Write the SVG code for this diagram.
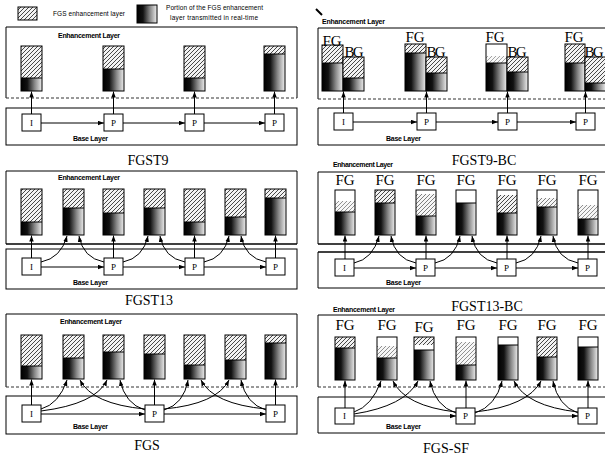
<svg xmlns="http://www.w3.org/2000/svg" width="605" height="456" viewBox="0 0 605 456">
<style>
.o{fill:none;stroke:#000;stroke-width:1}
.h{fill:url(#hatch)}
.d{fill:url(#grad)}
.w{fill:#fff}
.bx{fill:#fff;stroke:#000;stroke-width:1}
.pl{fill:none;stroke:#000;stroke-width:1}
.dash{fill:none;stroke:#333;stroke-width:1;stroke-dasharray:3 2}
.thick{fill:none;stroke:#000;stroke-width:1.6}
.sm{font-family:"Liberation Sans",Arial,sans-serif;font-size:7px;font-weight:bold;fill:#000}
.lg{font-family:"Liberation Sans",Arial,sans-serif;font-size:6.5px;fill:#000}
.tt{font-family:"Liberation Serif","Times New Roman",serif;font-size:14px;fill:#000;text-anchor:middle}
.fg{font-family:"Liberation Serif","Times New Roman",serif;font-size:15px;fill:#000;text-anchor:middle}
.bl{font-family:"Liberation Serif","Times New Roman",serif;font-size:9px;fill:#000;text-anchor:middle}
.cn line,.cn path{fill:none;stroke:#000;stroke-width:1;marker-end:url(#ah)}
</style>
<defs>
<pattern id="hatch" patternUnits="userSpaceOnUse" width="4" height="4">
<rect width="4" height="4" fill="#f2f2f2"/>
<path d="M-1,1 L1,-1 M0,4 L4,0 M3,5 L5,3" stroke="#333" stroke-width="0.9"/>
</pattern>
<linearGradient id="grad" x1="0" y1="0" x2="1" y2="0">
<stop offset="0" stop-color="#000"/>
<stop offset="0.3" stop-color="#111"/>
<stop offset="0.65" stop-color="#888"/>
<stop offset="1" stop-color="#eee"/>
</linearGradient>
<marker id="ah" viewBox="0 0 8 6" refX="8" refY="3" markerWidth="6" markerHeight="5" markerUnits="userSpaceOnUse" orient="auto">
<path d="M0,0 L8,3 L0,6 z" fill="#000"/>
</marker>
</defs>
<rect width="605" height="456" fill="#fff"/>

<!-- Legend -->
<g id="legend">
<rect class="h" x="18" y="7" width="19" height="13"/><rect class="o" x="18" y="7" width="19" height="13"/>
<text class="lg" x="53" y="16" textLength="72">FGS enhancement layer</text>
<rect class="d" x="137" y="5" width="20" height="18"/><rect class="o" x="137" y="5" width="20" height="18"/>
<text class="lg" x="166" y="10" textLength="97">Portion of the FGS enhancement</text>
<text class="lg" x="170" y="20" textLength="88">layer transmitted in real-time</text>
</g>

<!-- ===== Panel TL ===== -->
<g id="tl-frame">
<path class="pl" d="M6,98 V27 H297 V98"/><line class="dash" x1="6" y1="98" x2="297" y2="98"/>
<rect class="pl" x="6" y="108" width="291" height="37"/>
<text class="sm" x="58" y="38" textLength="62">Enhancement Layer</text>
<text class="sm" x="73" y="141" textLength="35">Base Layer</text>
</g>
<g id="tl-c1"><rect class="h" x="21" y="46" width="21" height="32"/><rect class="d" x="21" y="78" width="21" height="13"/><rect class="o" x="21" y="46" width="21" height="45"/><line class="o" x1="21" y1="78" x2="42" y2="78"/></g>
<g id="tl-c2"><rect class="h" x="103" y="46" width="21" height="23"/><rect class="d" x="103" y="69" width="21" height="22"/><rect class="o" x="103" y="46" width="21" height="45"/><line class="o" x1="103" y1="69" x2="124" y2="69"/></g>
<g id="tl-c3"><rect class="h" x="184" y="46" width="21" height="32"/><rect class="d" x="184" y="78" width="21" height="13"/><rect class="o" x="184" y="46" width="21" height="45"/><line class="o" x1="184" y1="78" x2="205" y2="78"/></g>
<g id="tl-c4"><rect class="h" x="264" y="46" width="21" height="8"/><rect class="d" x="264" y="54" width="21" height="37"/><rect class="o" x="264" y="46" width="21" height="45"/><line class="o" x1="264" y1="54" x2="285" y2="54"/></g>
<g id="tl-I"><rect class="bx" x="22" y="114" width="19" height="17"/><text class="bl" x="31.5" y="126">I</text></g>
<g id="tl-P1"><rect class="bx" x="104" y="114" width="19" height="17"/><text class="bl" x="113.5" y="126">P</text></g>
<g id="tl-P2"><rect class="bx" x="185" y="114" width="19" height="17"/><text class="bl" x="194.5" y="126">P</text></g>
<g id="tl-P3"><rect class="bx" x="265" y="114" width="19" height="17"/><text class="bl" x="274.5" y="126">P</text></g>

<!-- ===== Panel TR ===== -->
<g id="tr-frame">
<path d="M316,9 L322,15" stroke="#000" stroke-width="2"/>
<path class="pl" d="M318,99 V28 H610"/><line class="dash" x1="318" y1="99" x2="610" y2="99"/>
<path class="pl" d="M610,108 H318 V145 H610"/>
<text class="sm" x="322" y="24" textLength="63">Enhancement Layer</text>
<text class="sm" x="386" y="141" textLength="35">Base Layer</text>
</g>
<g id="tr-fg1"><rect class="h" x="322" y="45" width="21" height="18"/><rect class="d" x="322" y="63" width="21" height="28"/><rect class="o" x="322" y="45" width="21" height="46"/><line class="o" x1="322" y1="63" x2="343" y2="63"/></g>
<g id="tr-bg1"><rect class="h" x="343" y="57" width="21" height="21"/><rect class="d" x="343" y="78" width="21" height="13"/><rect class="o" x="343" y="57" width="21" height="34"/><line class="o" x1="343" y1="78" x2="364" y2="78"/></g>
<g id="tr-fg2"><rect class="h" x="405" y="44" width="21" height="9"/><rect class="d" x="405" y="53" width="21" height="38"/><rect class="o" x="405" y="44" width="21" height="47"/><line class="o" x1="405" y1="53" x2="426" y2="53"/></g>
<g id="tr-bg2"><rect class="h" x="426" y="57" width="21" height="16"/><rect class="d" x="426" y="73" width="21" height="18"/><rect class="o" x="426" y="57" width="21" height="34"/><line class="o" x1="426" y1="73" x2="447" y2="73"/></g>
<g id="tr-fg3"><rect class="w" x="486" y="44" width="21" height="19"/><rect class="h" x="486" y="56" width="21" height="7" opacity="0.5"/><rect class="d" x="486" y="63" width="21" height="28"/><rect class="o" x="486" y="44" width="21" height="47"/><line class="o" x1="486" y1="63" x2="507" y2="63"/></g>
<g id="tr-bg3"><rect class="h" x="507" y="57" width="21" height="15"/><rect class="d" x="507" y="72" width="21" height="19"/><rect class="o" x="507" y="57" width="21" height="34"/><line class="o" x1="507" y1="72" x2="528" y2="72"/></g>
<g id="tr-fg4"><rect class="h" x="565" y="44" width="20" height="19"/><rect class="d" x="565" y="63" width="20" height="28"/><rect class="o" x="565" y="44" width="20" height="47"/><line class="o" x1="565" y1="63" x2="585" y2="63"/></g>
<g id="tr-bg4"><rect class="h" x="585" y="57" width="21" height="26"/><rect class="d" x="585" y="83" width="21" height="8"/><rect class="o" x="585" y="57" width="21" height="34"/><line class="o" x1="585" y1="83" x2="606" y2="83"/></g>
<g id="tr-labels">
<text class="fg" x="332" y="46" textLength="19">FG</text><text class="fg" x="354" y="57" textLength="19">BG</text>
<text class="fg" x="415" y="42" textLength="19">FG</text><text class="fg" x="436" y="57" textLength="19">BG</text>
<text class="fg" x="495" y="42" textLength="19">FG</text><text class="fg" x="517" y="57" textLength="19">BG</text>
<text class="fg" x="574" y="42" textLength="19">FG</text><text class="fg" x="594" y="57" textLength="19">BG</text>
</g>
<g id="tr-I"><rect class="bx" x="334" y="113" width="19" height="17"/><text class="bl" x="343.5" y="125">I</text></g>
<g id="tr-P1"><rect class="bx" x="417" y="113" width="19" height="17"/><text class="bl" x="426.5" y="125">P</text></g>
<g id="tr-P2"><rect class="bx" x="498" y="113" width="19" height="17"/><text class="bl" x="507.5" y="125">P</text></g>
<g id="tr-P3"><rect class="bx" x="576" y="113" width="19" height="17"/><text class="bl" x="585.5" y="125">P</text></g>

<!-- Titles row 1 -->
<text class="tt" x="148" y="165">FGST9</text>
<text class="tt" x="484" y="165">FGST9-BC</text>

<!-- ===== Panel ML ===== -->
<g id="ml-frame">
<path class="pl" d="M6,244 V171 H297 V244"/><line class="thick" x1="6" y1="244" x2="297" y2="244"/>
<rect class="pl" x="6" y="249" width="291" height="40"/>
<text class="sm" x="58" y="180" textLength="62">Enhancement Layer</text>
<text class="sm" x="73" y="285" textLength="35">Base Layer</text>
</g>
<g id="ml-c1"><rect class="h" x="21" y="189" width="21" height="33"/><rect class="d" x="21" y="222" width="21" height="13"/><rect class="o" x="21" y="189" width="21" height="46"/><line class="o" x1="21" y1="222" x2="42" y2="222"/></g>
<g id="ml-c2"><rect class="h" x="63" y="189" width="21" height="19"/><rect class="d" x="63" y="208" width="21" height="27"/><rect class="o" x="63" y="189" width="21" height="46"/><line class="o" x1="63" y1="208" x2="84" y2="208"/></g>
<g id="ml-c3"><rect class="h" x="103" y="189" width="21" height="24"/><rect class="d" x="103" y="213" width="21" height="22"/><rect class="o" x="103" y="189" width="21" height="46"/><line class="o" x1="103" y1="213" x2="124" y2="213"/></g>
<g id="ml-c4"><rect class="h" x="144" y="189" width="21" height="19"/><rect class="d" x="144" y="208" width="21" height="27"/><rect class="o" x="144" y="189" width="21" height="46"/><line class="o" x1="144" y1="208" x2="165" y2="208"/></g>
<g id="ml-c5"><rect class="h" x="184" y="189" width="21" height="33"/><rect class="d" x="184" y="222" width="21" height="13"/><rect class="o" x="184" y="189" width="21" height="46"/><line class="o" x1="184" y1="222" x2="205" y2="222"/></g>
<g id="ml-c6"><rect class="h" x="225" y="189" width="21" height="28"/><rect class="d" x="225" y="217" width="21" height="18"/><rect class="o" x="225" y="189" width="21" height="46"/><line class="o" x1="225" y1="217" x2="246" y2="217"/></g>
<g id="ml-c7"><rect class="h" x="265" y="189" width="21" height="9"/><rect class="d" x="265" y="198" width="21" height="37"/><rect class="o" x="265" y="189" width="21" height="46"/><line class="o" x1="265" y1="198" x2="286" y2="198"/></g>
<g id="ml-I"><rect class="bx" x="22" y="258" width="19" height="17"/><text class="bl" x="31.5" y="270">I</text></g>
<g id="ml-P1"><rect class="bx" x="104" y="258" width="19" height="17"/><text class="bl" x="113.5" y="270">P</text></g>
<g id="ml-P2"><rect class="bx" x="185" y="258" width="19" height="17"/><text class="bl" x="194.5" y="270">P</text></g>
<g id="ml-P3"><rect class="bx" x="266" y="258" width="19" height="17"/><text class="bl" x="275.5" y="270">P</text></g>

<!-- ===== Panel MR ===== -->
<g id="mr-frame">
<path class="pl" d="M318,244 V172 H610"/><line class="thick" x1="318" y1="244" x2="610" y2="244"/>
<line class="thick" x1="318" y1="252" x2="610" y2="252"/>
<path class="pl" d="M318,252 V288 H610"/>
<text class="sm" x="333" y="167" textLength="60">Enhancement Layer</text>
<text class="sm" x="386" y="285" textLength="35">Base Layer</text>
</g>
<g id="mr-c1"><rect class="w" x="335" y="190" width="20" height="22"/><rect class="h" x="335" y="201" width="20" height="11" opacity="0.6"/><rect class="d" x="335" y="212" width="20" height="23"/><rect class="o" x="335" y="190" width="20" height="45"/><line class="o" x1="335" y1="212" x2="355" y2="212"/></g>
<g id="mr-c2"><rect class="h" x="375" y="190" width="20" height="13"/><rect class="d" x="375" y="203" width="20" height="32"/><rect class="o" x="375" y="190" width="20" height="45"/><line class="o" x1="375" y1="203" x2="395" y2="203"/></g>
<g id="mr-c3"><rect class="w" x="416" y="190" width="20" height="26"/><rect class="h" x="416" y="194" width="20" height="22" opacity="0.7"/><rect class="d" x="416" y="216" width="20" height="19"/><rect class="o" x="416" y="190" width="20" height="45"/><line class="o" x1="416" y1="216" x2="436" y2="216"/></g>
<g id="mr-c4"><rect class="w" x="456" y="190" width="20" height="13"/><rect class="d" x="456" y="203" width="20" height="32"/><rect class="o" x="456" y="190" width="20" height="45"/><line class="o" x1="456" y1="203" x2="476" y2="203"/></g>
<g id="mr-c5"><rect class="w" x="497" y="190" width="20" height="23"/><rect class="h" x="497" y="195" width="20" height="18"/><rect class="d" x="497" y="213" width="20" height="22"/><rect class="o" x="497" y="190" width="20" height="45"/><line class="o" x1="497" y1="213" x2="517" y2="213"/></g>
<g id="mr-c6"><rect class="w" x="537" y="190" width="20" height="17"/><rect class="h" x="537" y="198" width="20" height="9" opacity="0.7"/><rect class="d" x="537" y="207" width="20" height="28"/><rect class="o" x="537" y="190" width="20" height="45"/><line class="o" x1="537" y1="207" x2="557" y2="207"/></g>
<g id="mr-c7"><rect class="w" x="578" y="190" width="20" height="29"/><rect class="h" x="578" y="205" width="20" height="14" opacity="0.6"/><rect class="d" x="578" y="219" width="20" height="16"/><rect class="o" x="578" y="190" width="20" height="45"/><line class="o" x1="578" y1="219" x2="598" y2="219"/></g>
<g id="mr-labels">
<text class="fg" x="345" y="185" textLength="19">FG</text><text class="fg" x="385" y="185" textLength="19">FG</text><text class="fg" x="426" y="185" textLength="19">FG</text><text class="fg" x="466" y="185" textLength="19">FG</text><text class="fg" x="507" y="185" textLength="19">FG</text><text class="fg" x="547" y="185" textLength="19">FG</text><text class="fg" x="588" y="185" textLength="19">FG</text>
</g>
<g id="mr-I"><rect class="bx" x="335" y="259" width="19" height="17"/><text class="bl" x="344.5" y="271">I</text></g>
<g id="mr-P1"><rect class="bx" x="416" y="259" width="19" height="17"/><text class="bl" x="425.5" y="271">P</text></g>
<g id="mr-P2"><rect class="bx" x="497" y="259" width="19" height="17"/><text class="bl" x="506.5" y="271">P</text></g>
<g id="mr-P3"><rect class="bx" x="578" y="259" width="19" height="17"/><text class="bl" x="587.5" y="271">P</text></g>

<!-- Titles row 2 -->
<text class="tt" x="149" y="305">FGST13</text>
<text class="tt" x="487" y="311">FGST13-BC</text>

<!-- ===== Panel BL ===== -->
<g id="bl-frame">
<path class="pl" d="M6,387 V314 H297 V387"/><line class="dash" x1="6" y1="387" x2="297" y2="387"/>
<rect class="pl" x="6" y="396" width="291" height="38"/>
<text class="sm" x="60" y="324" textLength="62">Enhancement Layer</text>
<text class="sm" x="73" y="429" textLength="35">Base Layer</text>
</g>
<g id="bl-c1"><rect class="h" x="21" y="335" width="21" height="31"/><rect class="d" x="21" y="366" width="21" height="13"/><rect class="o" x="21" y="335" width="21" height="44"/><line class="o" x1="21" y1="366" x2="42" y2="366"/></g>
<g id="bl-c2"><rect class="h" x="63" y="335" width="21" height="23"/><rect class="d" x="63" y="358" width="21" height="21"/><rect class="o" x="63" y="335" width="21" height="44"/><line class="o" x1="63" y1="358" x2="84" y2="358"/></g>
<g id="bl-c3"><rect class="h" x="103" y="335" width="21" height="17"/><rect class="d" x="103" y="352" width="21" height="27"/><rect class="o" x="103" y="335" width="21" height="44"/><line class="o" x1="103" y1="352" x2="124" y2="352"/></g>
<g id="bl-c4"><rect class="h" x="144" y="335" width="21" height="19"/><rect class="d" x="144" y="354" width="21" height="25"/><rect class="o" x="144" y="335" width="21" height="44"/><line class="o" x1="144" y1="354" x2="165" y2="354"/></g>
<g id="bl-c5"><rect class="h" x="184" y="335" width="21" height="30"/><rect class="d" x="184" y="365" width="21" height="14"/><rect class="o" x="184" y="335" width="21" height="44"/><line class="o" x1="184" y1="365" x2="205" y2="365"/></g>
<g id="bl-c6"><rect class="h" x="225" y="335" width="21" height="25"/><rect class="d" x="225" y="360" width="21" height="19"/><rect class="o" x="225" y="335" width="21" height="44"/><line class="o" x1="225" y1="360" x2="246" y2="360"/></g>
<g id="bl-c7"><rect class="h" x="265" y="335" width="21" height="8"/><rect class="d" x="265" y="343" width="21" height="36"/><rect class="o" x="265" y="335" width="21" height="44"/><line class="o" x1="265" y1="343" x2="286" y2="343"/></g>
<g id="bl-I"><rect class="bx" x="22" y="405" width="19" height="17"/><text class="bl" x="31.5" y="417">I</text></g>
<g id="bl-P1"><rect class="bx" x="145" y="405" width="19" height="17"/><text class="bl" x="154.5" y="417">P</text></g>
<g id="bl-P2"><rect class="bx" x="266" y="405" width="19" height="17"/><text class="bl" x="275.5" y="417">P</text></g>

<!-- ===== Panel BR ===== -->
<g id="br-frame">
<path class="pl" d="M318,387 V315 H610"/><line class="dash" x1="318" y1="387" x2="610" y2="387"/>
<path class="pl" d="M610,397 H318 V433 H610"/>
<text class="sm" x="333" y="312" textLength="62">Enhancement Layer</text>
<text class="sm" x="386" y="429" textLength="35">Base Layer</text>
</g>
<g id="br-c1"><rect class="h" x="335" y="337" width="20" height="11"/><rect class="d" x="335" y="348" width="20" height="32"/><rect class="o" x="335" y="337" width="20" height="43"/><line class="o" x1="335" y1="348" x2="355" y2="348"/></g>
<g id="br-c2"><rect class="w" x="377" y="337" width="20" height="21"/><rect class="h" x="377" y="346" width="20" height="12" opacity="0.6"/><rect class="d" x="377" y="358" width="20" height="22"/><rect class="o" x="377" y="337" width="20" height="43"/><line class="o" x1="377" y1="358" x2="397" y2="358"/></g>
<g id="br-c3"><rect class="w" x="414" y="337" width="20" height="13"/><rect class="h" x="414" y="337" width="20" height="8"/><rect class="d" x="414" y="350" width="20" height="30"/><rect class="o" x="414" y="337" width="20" height="43"/><line class="o" x1="414" y1="350" x2="434" y2="350"/></g>
<g id="br-c4"><rect class="w" x="456" y="337" width="20" height="28"/><rect class="h" x="456" y="342" width="20" height="23" opacity="0.6"/><rect class="d" x="456" y="365" width="20" height="15"/><rect class="o" x="456" y="337" width="20" height="43"/><line class="o" x1="456" y1="365" x2="476" y2="365"/></g>
<g id="br-c5"><rect class="w" x="498" y="337" width="20" height="8"/><rect class="d" x="498" y="345" width="20" height="35"/><rect class="o" x="498" y="337" width="20" height="43"/><line class="o" x1="498" y1="345" x2="518" y2="345"/></g>
<g id="br-c6"><rect class="h" x="537" y="337" width="20" height="20"/><rect class="d" x="537" y="357" width="20" height="23"/><rect class="o" x="537" y="337" width="20" height="43"/><line class="o" x1="537" y1="357" x2="557" y2="357"/></g>
<g id="br-c7"><rect class="w" x="578" y="337" width="20" height="10"/><rect class="d" x="578" y="347" width="20" height="33"/><rect class="o" x="578" y="337" width="20" height="43"/><line class="o" x1="578" y1="347" x2="598" y2="347"/></g>
<g id="br-labels">
<text class="fg" x="345" y="330" textLength="19">FG</text><text class="fg" x="387" y="330" textLength="19">FG</text><text class="fg" x="424" y="332" textLength="19">FG</text><text class="fg" x="466" y="330" textLength="19">FG</text><text class="fg" x="508" y="330" textLength="19">FG</text><text class="fg" x="547" y="330" textLength="19">FG</text><text class="fg" x="588" y="330" textLength="19">FG</text>
</g>
<g id="br-I"><rect class="bx" x="335" y="408" width="19" height="16"/><text class="bl" x="344.5" y="419">I</text></g>
<g id="br-P1"><rect class="bx" x="456" y="408" width="19" height="16"/><text class="bl" x="465.5" y="419">P</text></g>
<g id="br-P2"><rect class="bx" x="578" y="408" width="19" height="16"/><text class="bl" x="587.5" y="419">P</text></g>

<!-- Titles row 3 -->
<text class="tt" x="147" y="450">FGS</text>
<text class="tt" x="446" y="453">FGS-SF</text>

<!-- ===== Connectors ===== -->
<g id="connectors" class="cn">
<!-- TL -->
<line x1="31.5" y1="114" x2="31.5" y2="91.5"/><line x1="113.5" y1="114" x2="113.5" y2="91.5"/><line x1="194.5" y1="114" x2="194.5" y2="91.5"/><line x1="274.5" y1="114" x2="274.5" y2="91.5"/>
<line x1="41" y1="123" x2="104" y2="123"/><line x1="123" y1="123" x2="185" y2="123"/><line x1="204" y1="123" x2="265" y2="123"/>
<!-- TR -->
<line x1="343.5" y1="113" x2="343.5" y2="91.5"/><line x1="426.5" y1="113" x2="426.5" y2="91.5"/><line x1="507.5" y1="113" x2="507.5" y2="91.5"/><line x1="585.5" y1="113" x2="585.5" y2="91.5"/>
<line x1="353" y1="122" x2="417" y2="122"/><line x1="436" y1="122" x2="498" y2="122"/><line x1="517" y1="122" x2="576" y2="122"/>
<!-- ML -->
<line x1="31.5" y1="258" x2="31.5" y2="235.5"/><line x1="113.5" y1="258" x2="113.5" y2="235.5"/><line x1="194.5" y1="258" x2="194.5" y2="235.5"/><line x1="275.5" y1="258" x2="275.5" y2="235.5"/>
<line x1="41" y1="267" x2="104" y2="267"/><line x1="123" y1="267" x2="185" y2="267"/><line x1="204" y1="267" x2="266" y2="267"/>
<path d="M41,262 Q61,258 67,236"/><path d="M104,262 Q83,258 79,236"/>
<path d="M123,262 Q143,258 148,236"/><path d="M185,262 Q164,258 160,236"/>
<path d="M204,262 Q224,258 229,236"/><path d="M266,262 Q245,258 241,236"/>
<!-- MR -->
<line x1="345" y1="259" x2="345" y2="235.5"/><line x1="426" y1="259" x2="426" y2="235.5"/><line x1="507" y1="259" x2="507" y2="235.5"/><line x1="588" y1="259" x2="588" y2="235.5"/>
<line x1="354" y1="268" x2="416" y2="268"/><line x1="435" y1="268" x2="497" y2="268"/><line x1="516" y1="268" x2="578" y2="268"/>
<path d="M354,263 Q373,259 379,236"/><path d="M416,263 Q395,259 391,236"/>
<path d="M435,263 Q455,259 460,236"/><path d="M497,263 Q476,259 472,236"/>
<path d="M516,263 Q536,259 541,236"/><path d="M578,263 Q557,259 553,236"/>
<!-- BL -->
<line x1="31.5" y1="405" x2="31.5" y2="379.5"/><line x1="154.5" y1="405" x2="154.5" y2="379.5"/><line x1="275.5" y1="405" x2="275.5" y2="379.5"/>
<line x1="41" y1="414" x2="145" y2="414"/><line x1="164" y1="414" x2="266" y2="414"/>
<path d="M41,409 Q59,404 67,380"/><path d="M41,411 Q96,404 107,380"/>
<path d="M145,409 Q92,404 80,380"/><path d="M145,410 Q125,404 120,380"/>
<path d="M164,410 Q184,404 188,380"/><path d="M164,409 Q217,404 229,380"/>
<path d="M266,409 Q213,404 201,380"/><path d="M266,410 Q246,404 241,380"/>
<!-- BR -->
<line x1="345" y1="408" x2="345" y2="380.5"/><line x1="466" y1="408" x2="466" y2="380.5"/><line x1="588" y1="408" x2="588" y2="380.5"/>
<line x1="354" y1="416" x2="456" y2="416"/><line x1="475" y1="416" x2="578" y2="416"/>
<path d="M354,412 Q372,406 381,381"/><path d="M354,414 Q405,406 418,381"/>
<path d="M456,412 Q405,406 393,381"/><path d="M456,413 Q435,406 430,381"/>
<path d="M475,413 Q496,406 502,381"/><path d="M475,412 Q528,406 541,381"/>
<path d="M578,412 Q526,406 514,381"/><path d="M578,413 Q558,406 553,381"/>
</g>
</svg>
